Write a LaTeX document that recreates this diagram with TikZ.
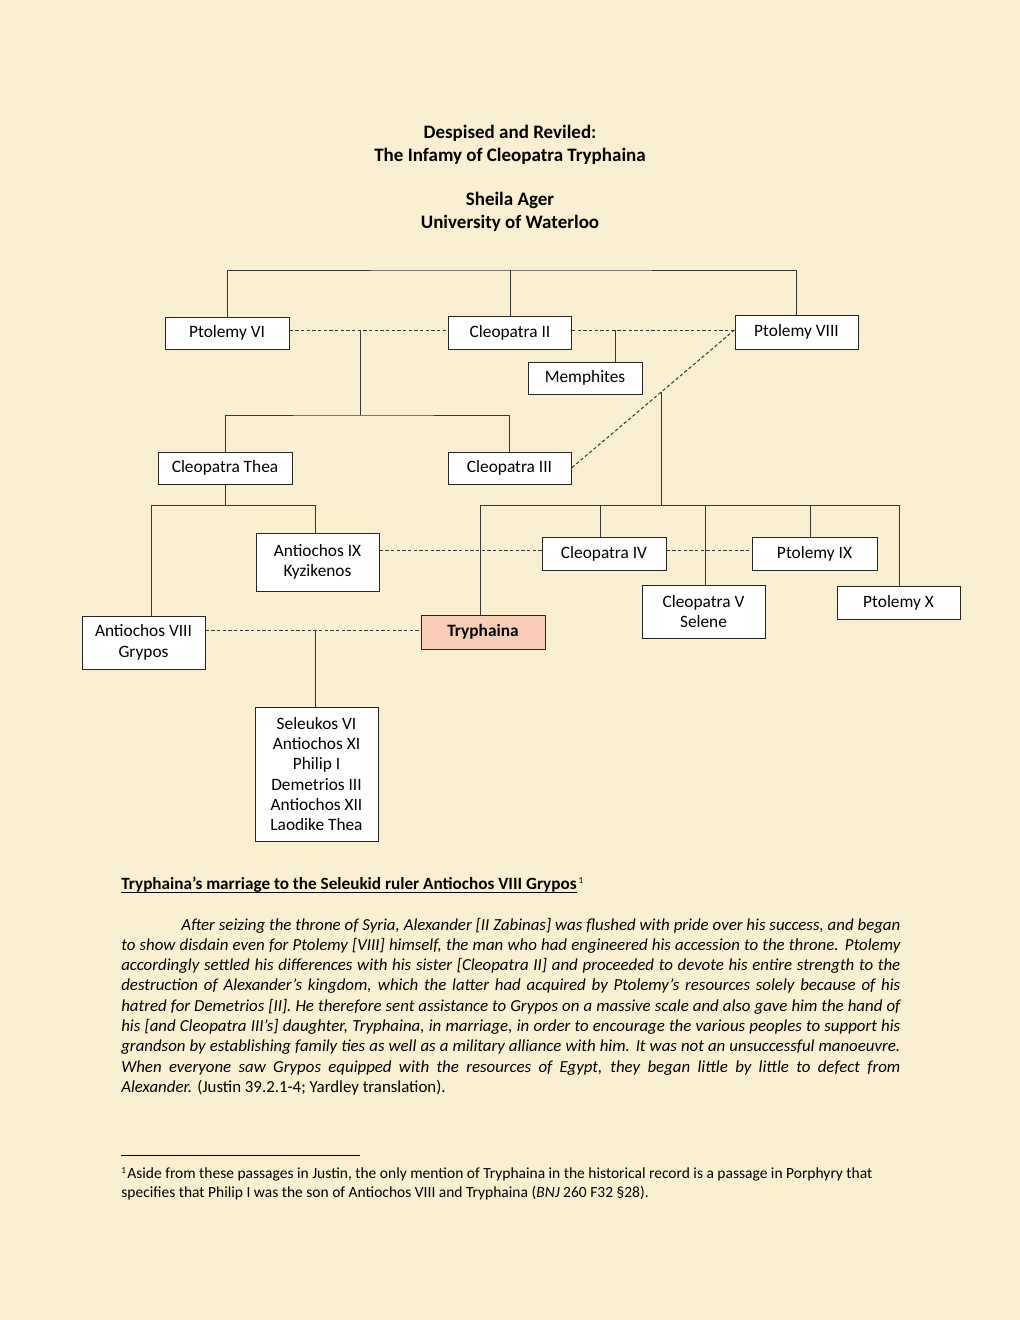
\documentclass[tikz,border=0pt]{standalone}
\usepackage{fontspec}
\setmainfont{Carlito}
\usetikzlibrary{calc}
\definecolor{bg}{RGB}{250,239,208}
\definecolor{salmon}{RGB}{250,206,182}
\definecolor{ln}{RGB}{55,55,55}
\tikzset{
  box/.style={draw=black!85, fill=white, line width=0.6pt, inner sep=0pt, align=center,
    font=\fontsize{10.4}{12.2}\selectfont},
  bx/.style 2 args={minimum width=#1*0.6pt, minimum height=#2*0.6pt},
  conn/.style={draw=ln, line width=0.6pt},
  dsh/.style={draw=ln, line width=0.6pt, dash pattern=on 2pt off 1.4pt},
  txt/.style={inner sep=0pt, anchor=base west},
  ttl/.style={inner sep=0pt, anchor=base, font=\fontsize{11.4}{14}\selectfont\bfseries},
  body/.style={inner sep=0pt, anchor=base west, font=\fontsize{10.1}{12.2}\selectfont},
  foot/.style={inner sep=0pt, anchor=base west, font=\fontsize{9.3}{11}\selectfont}
}
\newcommand{\jline}[2]{\makebox[#1][s]{#2}}
\begin{document}
\begin{tikzpicture}[x=0.6pt,y=-0.6pt]
\fill[bg] (0,0) rectangle (1020,1320);
\useasboundingbox (0,0) rectangle (1020,1320);

% titles
\node[ttl] (t1) at (510,138) {Despised and Reviled:};
\node[ttl] (t2) at (510,161) {The Infamy of Cleopatra Tryphaina};
\node[ttl] (t3) at (510,205) {Sheila Ager};
\node[ttl] (t4) at (510,228) {University of Waterloo};

% boxes
\node[box,bx={124}{32}] (p6) at (227,333) {Ptolemy VI};
\node[box,bx={123}{33}] (c2) at (510,333) {Cleopatra II};
\node[box,bx={123}{34}] (p8) at (796.5,332) {Ptolemy VIII};
\node[box,bx={114}{32}] (mem) at (585,378) {Memphites};
\node[box,bx={134}{32}] (cthea) at (225,468) {Cleopatra Thea};
\node[box,bx={123}{32}] (c3) at (509.5,468) {Cleopatra III};
\node[box,bx={123}{58}] (a9) at (317.5,562) {Antiochos IX\\Kyzikenos};
\node[box,bx={124}{33}] (c4) at (604,554) {Cleopatra IV};
\node[box,bx={125}{33}] (p9) at (814.5,553.5) {Ptolemy IX};
\node[box,bx={123}{53}] (c5) at (703.5,611.5) {Cleopatra V\\Selene};
\node[box,bx={123}{33}] (p10) at (898.5,602.5) {Ptolemy X};
\node[box,bx={123}{53}] (a8) at (143.5,642.5) {Antiochos VIII\\Grypos};
\node[box,bx={124}{34},fill=salmon,font=\fontsize{10.4}{12.2}\selectfont\bfseries] (try) at (483,632) {Tryphaina};
\node[box,bx={123}{134}] (kids) at (316.5,774) {Seleukos VI\\Antiochos XI\\Philip I\\Demetrios III\\Antiochos XII\\Laodike Thea};

% top bracket
\coordinate (top) at (510,270);
\draw[conn] (p6.north) |- (top) -| (p8.north);
\draw[conn] (top) -- (c2.north);

% Ptolemy VI -- Cleopatra II
\draw[dsh] (p6.east |- 0,330) -- (c2.west |- 0,330);
\coordinate (m1) at (360,330);
\coordinate (j1) at (360,415);
\draw[conn] (m1) -- (j1);
\draw[conn] (cthea.north) |- (j1) -| (c3.north);

% Cleopatra II -- Ptolemy VIII
\draw[dsh] (c2.east |- 0,330) -- (p8.west |- 0,330);
\coordinate (m2) at (615,330);
\draw[conn] (m2) -- (m2 |- mem.north);

% Ptolemy VIII -- Cleopatra III
\draw[dsh] (p8.west |- 0,330) -- (c3.east);
\coordinate (m3) at ($(p8.west |- 0,330)!0.45!(c3.east)$);
\coordinate (j3) at ($(m3 |- 0,505)$);
\draw[conn] (m3) -- (j3);
\coordinate (rb1) at (480,505);
\coordinate (rb2) at (600,505);
\coordinate (rb3) at (705,505);
\coordinate (rb4) at (810,505);
\coordinate (rb5) at (899,505);
\draw[conn] (rb1) -- (rb5);
\draw[conn] (rb1) -- (rb1 |- try.north);
\draw[conn] (rb2) -- (rb2 |- c4.north);
\draw[conn] (rb3) -- (rb3 |- c5.north);
\draw[conn] (rb4) -- (rb4 |- p9.north);
\draw[conn] (rb5) -- (rb5 |- p10.north);

% Cleopatra Thea children
\coordinate (j2) at (225,505);
\coordinate (lb1) at (151,505);
\coordinate (lb2) at (315,505);
\draw[conn] (cthea.south) -- (j2);
\draw[conn] (lb1) -- (lb2);
\draw[conn] (lb1) -- (lb1 |- a8.north);
\draw[conn] (lb2) -- (lb2 |- a9.north);

% marriages lower
\draw[dsh] (a9.east |- 0,550) -- (c4.west |- 0,550);
\draw[dsh] (c4.east |- 0,550) -- (p9.west |- 0,550);
\draw[dsh] (a8.east |- 0,630) -- (try.west |- 0,630);
\coordinate (m5) at (315,630);
\draw[conn] (m5) -- (m5 |- kids.north);

% heading
\node[txt,font=\fontsize{10.3}{12.2}\selectfont\bfseries] (h) at (121,889) {Tryphaina’s marriage to the Seleukid ruler Antiochos VIII Grypos};
\draw[line width=0.6pt] ($(h.base west)+(0,3)$) -- ($(h.base east)+(0,3)$);
\node[txt,font=\fontsize{5.5}{7}\selectfont,anchor=base west] (h1) at ($(h.base east)+(1.5,-6)$) {1};

% paragraph
\node[body] (l1) at (181,930) {\itshape\jline{431.4pt}{After seizing the throne of Syria, Alexander [II Zabinas] was flushed with pride over his success, and began}};
\node[body] (l2) at (121,950.3) {\itshape\jline{467.4pt}{to show disdain even for Ptolemy [VIII] himself, the man who had engineered his accession to the throne. Ptolemy}};
\node[body] (l3) at (121,970.6) {\itshape\jline{467.4pt}{accordingly settled his differences with his sister [Cleopatra II] and proceeded to devote his entire strength to the}};
\node[body] (l4) at (121,990.9) {\itshape\jline{467.4pt}{destruction of Alexander’s kingdom, which the latter had acquired by Ptolemy’s resources solely because of his}};
\node[body] (l5) at (121,1011.2) {\itshape\jline{467.4pt}{hatred for Demetrios [II]. He therefore sent assistance to Grypos on a massive scale and also gave him the hand of}};
\node[body] (l6) at (121,1031.5) {\itshape\jline{467.4pt}{his [and Cleopatra III’s] daughter, Tryphaina, in marriage, in order to encourage the various peoples to support his}};
\node[body] (l7) at (121,1051.8) {\itshape\jline{467.4pt}{grandson by establishing family ties as well as a military alliance with him. It was not an unsuccessful manoeuvre.}};
\node[body] (l8) at (121,1072.1) {\itshape\jline{467.4pt}{When everyone saw Grypos equipped with the resources of Egypt, they began little by little to defect from}};
\node[body] (l9) at (121,1092.4) {\textit{Alexander.} (Justin 39.2.1-4; Yardley translation).};

% footnote
\draw[line width=0.6pt] (121,1155) coordinate (fr1) -- (360,1155) coordinate (fr2);
\node[foot,font=\fontsize{5.5}{6}\selectfont] (f0) at (121,1173) {1};
\node[foot] (f1) at (127,1178) {Aside from these passages in Justin, the only mention of Tryphaina in the historical record is a passage in Porphyry that};
\node[foot] (f2) at (121,1197) {specifies that Philip I was the son of Antiochos VIII and Tryphaina (\textit{BNJ} 260 F32 §28).};
\end{tikzpicture}
\end{document}
